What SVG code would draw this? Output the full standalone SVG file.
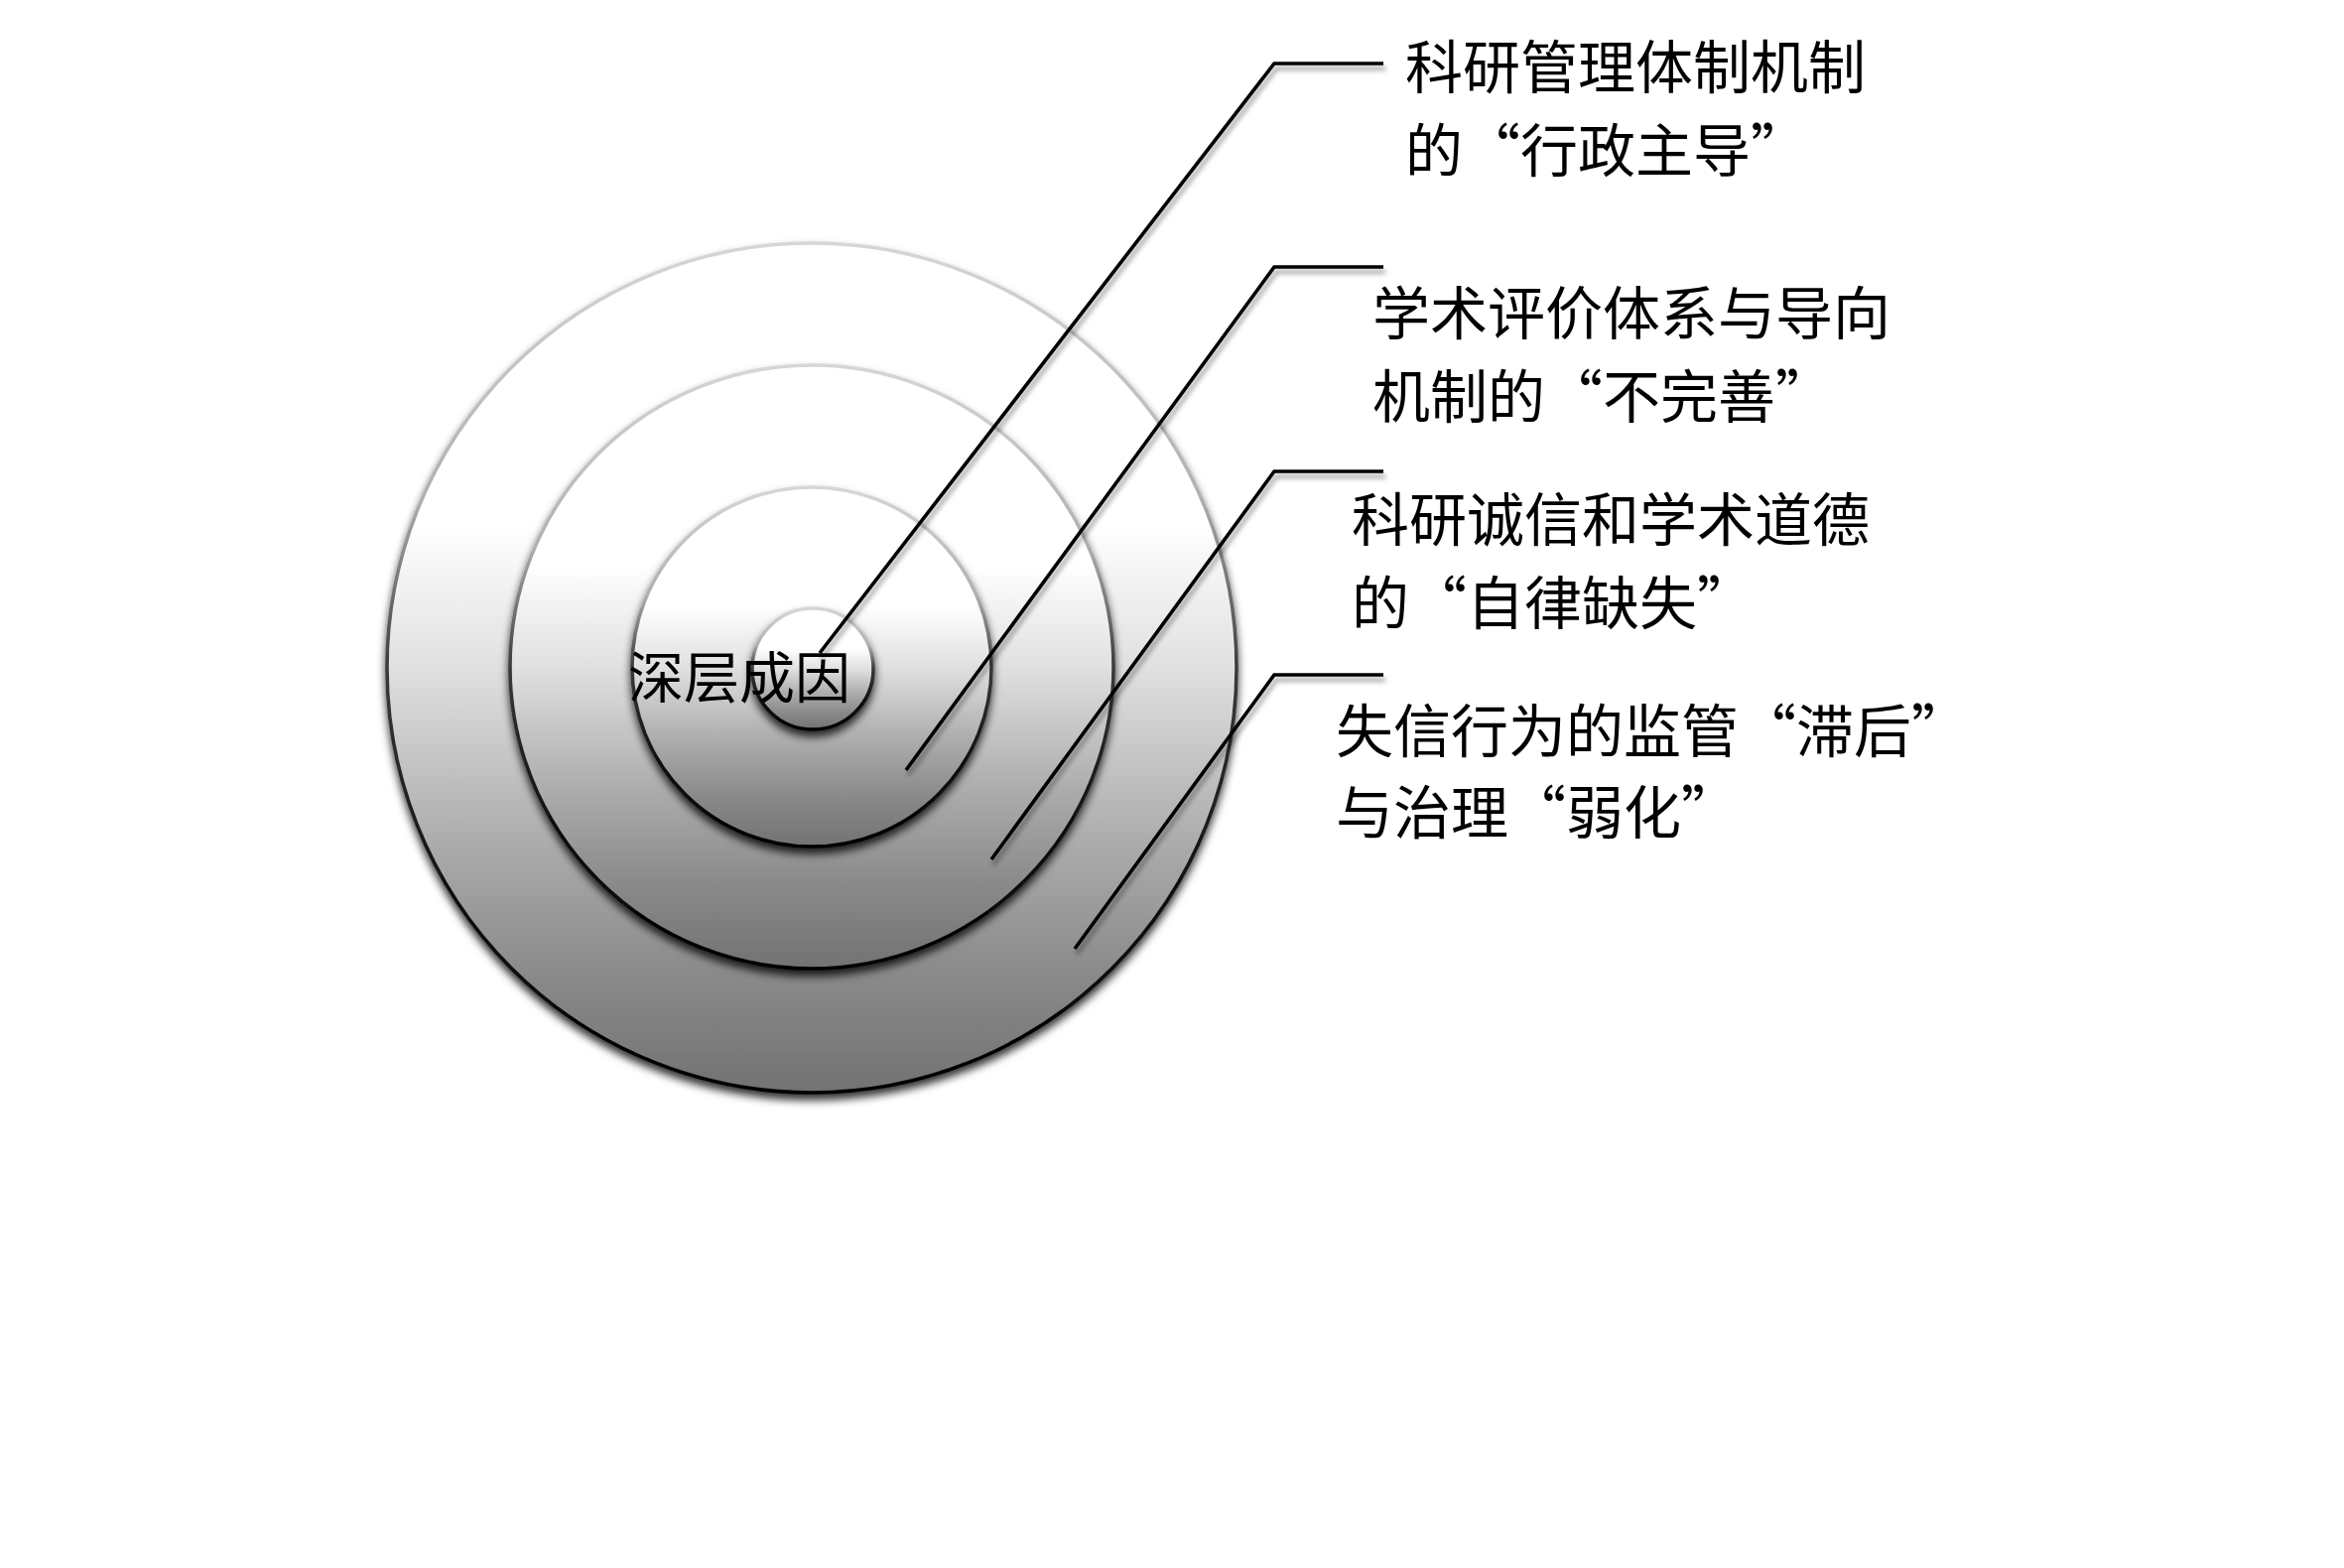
<svg xmlns="http://www.w3.org/2000/svg" width="2362" height="1580" viewBox="0 0 2362 1580">
  <defs>
    <linearGradient id="fillG" x1="0" y1="0" x2="0" y2="1">
      <stop offset="0" stop-color="#ffffff"/>
      <stop offset="0.33" stop-color="#ffffff"/>
      <stop offset="0.5" stop-color="#e0e0e0"/>
      <stop offset="0.7" stop-color="#adadad"/>
      <stop offset="0.86" stop-color="#8a8a8a"/>
      <stop offset="1" stop-color="#727272"/>
    </linearGradient>
    <linearGradient id="edgeG" x1="0" y1="0" x2="0" y2="1">
      <stop offset="0" stop-color="#d6d6d6"/>
      <stop offset="0.3" stop-color="#b0b0b0"/>
      <stop offset="0.5" stop-color="#3a3a3a"/>
      <stop offset="0.75" stop-color="#111111"/>
      <stop offset="1" stop-color="#000000"/>
    </linearGradient>
    <filter id="ringShadow" x="-10%" y="-10%" width="120%" height="125%">
      <feGaussianBlur in="SourceAlpha" stdDeviation="4"/>
      <feOffset dy="6" result="b"/>
      <feFlood flood-color="#000000" flood-opacity="0.8"/>
      <feComposite in2="b" operator="in"/>
      <feMerge><feMergeNode/><feMergeNode in="SourceGraphic"/></feMerge>
    </filter>
    <filter id="lineShadow" x="-10%" y="-10%" width="130%" height="130%">
      <feGaussianBlur in="SourceAlpha" stdDeviation="2.5"/>
      <feOffset dx="2" dy="5" result="b"/>
      <feFlood flood-color="#000000" flood-opacity="0.4"/>
      <feComposite in2="b" operator="in"/>
      <feMerge><feMergeNode/><feMergeNode in="SourceGraphic"/></feMerge>
    </filter>
  </defs>
  <style>
    .ring { fill: url(#fillG); stroke: url(#edgeG); stroke-width: 3.5; filter: url(#ringShadow); }
    .conn { fill: none; stroke: #000000; stroke-width: 3.6; stroke-linejoin: miter; filter: url(#lineShadow); }
    .lbl { font-family: "Noto Sans CJK SC", "Liberation Serif", sans-serif; font-size: 58px; fill: #000000; }
    .core { font-family: "Noto Sans CJK SC", "Liberation Serif", sans-serif; font-size: 56px; fill: #000000; text-anchor: middle; }
  </style>
  <rect x="0" y="0" width="2362" height="1580" fill="#ffffff"/>

  <g id="ring-outer">
    <circle class="ring" cx="818" cy="673" r="428"/>
  </g>
  <g id="ring-second">
    <circle class="ring" cx="818" cy="672" r="304"/>
  </g>
  <g id="ring-third">
    <circle class="ring" cx="818" cy="672" r="181"/>
  </g>
  <g id="ring-core">
    <circle class="ring" cx="819" cy="674" r="61"/>
    <text class="core" x="745" y="703">深层成因</text>
  </g>

  <g id="connectors">
    <polyline class="conn" points="826,658 1284,64 1394,64"/>
    <polyline class="conn" points="913,776 1284,269 1394,269"/>
    <polyline class="conn" points="999,866 1284,475 1394,475"/>
    <polyline class="conn" points="1083,956 1284,680 1394,680"/>
  </g>

  <g id="label-1">
    <text class="lbl" x="1416" y="89">科研管理体制机制</text>
    <text class="lbl" x="1416" y="173">的“行政主导”</text>
  </g>
  <g id="label-2">
    <text class="lbl" x="1383" y="337">学术评价体系与导向</text>
    <text class="lbl" x="1383" y="421">机制的“不完善”</text>
  </g>
  <g id="label-3">
    <text class="lbl" x="1362" y="545">科研诚信和学术道德</text>
    <text class="lbl" x="1362" y="629">的“自律缺失”</text>
  </g>
  <g id="label-4">
    <text class="lbl" x="1346" y="758">失信行为的监管“滞后”</text>
    <text class="lbl" x="1346" y="840">与治理“弱化”</text>
  </g>
</svg>
